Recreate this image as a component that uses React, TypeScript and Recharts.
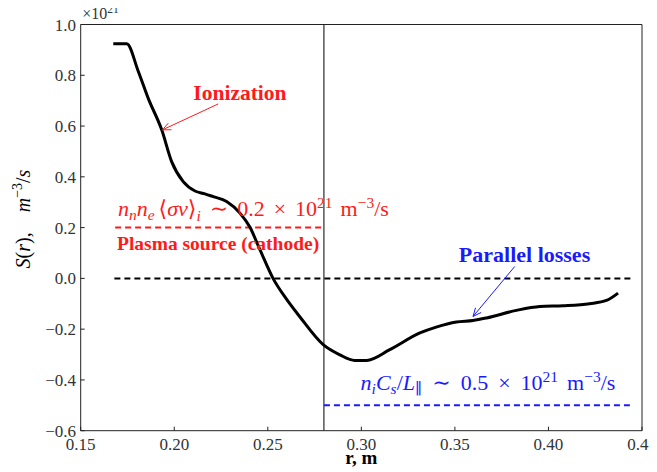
import React from 'react';
import { LineChart, Line, XAxis, YAxis, ReferenceLine, ReferenceDot } from 'recharts';

// radius r (m) and source S(r) (units of 1e21 m^-3/s)
const rValues = [
  0.1674, 0.1746, 0.1808, 0.1861, 0.1933, 0.1986, 0.2048, 0.2111, 0.2164, 0.2208,
  0.228, 0.2351, 0.2404, 0.2458, 0.2528, 0.26, 0.2672, 0.2796, 0.2885, 0.2965,
  0.3028, 0.3152, 0.3313, 0.34, 0.3508, 0.3597, 0.3669, 0.3829, 0.3954, 0.4078,
  0.422, 0.431, 0.4372,
];
const sValues = [
  0.924, 0.924, 0.815, 0.709, 0.585, 0.46, 0.381, 0.344, 0.333, 0.322,
  0.303, 0.257, 0.202, 0.113, 0.0, -0.082, -0.152, -0.261, -0.301, -0.323,
  -0.323, -0.281, -0.215, -0.192, -0.172, -0.166, -0.156, -0.126, -0.111, -0.108,
  -0.1, -0.087, -0.058,
];

// dashed reference levels
const ionizationLevel = [{ r: 0.1684, s: 0.2 }, { r: 0.28, s: 0.2 }];
const zeroLevel = [{ r: 0.168, s: 0 }, { r: 0.444, s: 0 }];
const lossLevel = [{ r: 0.28, s: -0.5 }, { r: 0.4435, s: -0.5 }];
const cathodeEdge = 0.28;

const xTicks = [0.15, 0.2, 0.25, 0.3, 0.35, 0.4, 0.45];
const yTicks = [-0.6, -0.4, -0.2, 0.0, 0.2, 0.4, 0.6, 0.8, 1.0];

const profile = rValues.map((r, i) => ({ r, s: sValues[i] }));

const FONT = '"Liberation Serif", "DejaVu Serif", "Noto Serif", Tinos, "Times New Roman", Times, serif';
const RED = '#ff1a1a';
const BLUE = '#1a1aff';

const fmt = (v: number, d: number) => (v < 0 ? '\u2212' : '') + Math.abs(v).toFixed(d);

const Arrow = (p: any, color: string) => {
  const { x1, y1, x2, y2 } = p;
  const a = Math.atan2(y2 - y1, x2 - x1);
  const len = 9;
  const spread = 0.42;
  const hx1 = x2 - len * Math.cos(a - spread);
  const hy1 = y2 - len * Math.sin(a - spread);
  const hx2 = x2 - len * Math.cos(a + spread);
  const hy2 = y2 - len * Math.sin(a + spread);
  return (
    <g stroke={color} strokeWidth={1} fill="none">
      <line x1={x1} y1={y1} x2={x2} y2={y2} />
      <polyline points={`${hx1},${hy1} ${x2},${y2} ${hx2},${hy2}`} />
    </g>
  );
};

const noLabel = () => <g />;

const App: React.FC = () => {
  return (
    <div style={{ margin: '-8px 0 0 -8px', width: 657, height: 472 }}>
      <LineChart
        width={657}
        height={472}
        margin={{ top: 23.5, right: 14, left: 0, bottom: 0 }}
        style={{ fontFamily: FONT }}
      >
        <XAxis
          dataKey="r"
          type="number"
          domain={[0.15, 0.45]}
          ticks={xTicks}
          interval={0}
          allowDataOverflow
          height={41.3}
          tickSize={-4}
          tickMargin={10.8}
          tickFormatter={(v: number) => fmt(v, 2)}
          tick={{ fill: '#333', fontSize: 17, fontFamily: FONT }}
          axisLine={{ stroke: '#222' }}
          tickLine={{ stroke: '#222' }}
          label={{
            content: ({ viewBox }: any) => (
              <text
                x={viewBox.x + viewBox.width / 2}
                y={viewBox.y + 33}
                textAnchor="middle"
                fontFamily={FONT}
                fontWeight="bold"
                fontSize={19}
                fill="#000"
              >
                r, m
              </text>
            ),
          }}
        />
        <XAxis
          xAxisId="top"
          orientation="top"
          type="number"
          domain={[0.15, 0.45]}
          ticks={xTicks}
          interval={0}
          height={1}
          tick={noLabel}
          tickSize={-4}
          axisLine={{ stroke: '#222' }}
          tickLine={{ stroke: '#222' }}
        />
        <YAxis
          type="number"
          domain={[-0.6, 1.0]}
          ticks={yTicks}
          interval={0}
          allowDataOverflow
          width={80.7}
          tickSize={-4}
          tickMargin={8.7}
          tickFormatter={(v: number) => fmt(v, 1)}
          tick={{ fill: '#333', fontSize: 17, fontFamily: FONT }}
          axisLine={{ stroke: '#222' }}
          tickLine={{ stroke: '#222' }}
          label={{
            content: () => (
              <text
                transform="translate(30,219) rotate(-90)"
                textAnchor="middle"
                fontFamily={FONT}
                fontSize={20}
                fill="#000"
              >
                <tspan fontStyle="italic">S</tspan>
                <tspan>(</tspan>
                <tspan fontStyle="italic">r</tspan>
                <tspan>),</tspan>
                <tspan dx={20} fontStyle="italic">m</tspan>
                <tspan fontSize={14} dy={-8}>{'\u22123'}</tspan>
                <tspan dy={8}>/</tspan>
                <tspan fontStyle="italic">s</tspan>
              </text>
            ),
          }}
        />
        <YAxis
          yAxisId="right"
          orientation="right"
          type="number"
          domain={[-0.6, 1.0]}
          ticks={yTicks}
          interval={0}
          width={1}
          tick={noLabel}
          tickSize={-4}
          axisLine={{ stroke: '#222' }}
          tickLine={{ stroke: '#222' }}
        />

        <ReferenceLine x={cathodeEdge} stroke="#000" strokeWidth={1} />

        <Line
          data={zeroLevel}
          dataKey="s"
          stroke="#000"
          strokeWidth={2}
          strokeDasharray="6 4"
          dot={false}
          activeDot={false}
          isAnimationActive={false}
        />
        <Line
          data={ionizationLevel}
          dataKey="s"
          stroke={RED}
          strokeWidth={2}
          strokeDasharray="6 4"
          dot={false}
          activeDot={false}
          isAnimationActive={false}
        />
        <Line
          data={lossLevel}
          dataKey="s"
          stroke={BLUE}
          strokeWidth={2}
          strokeDasharray="6 4"
          dot={false}
          activeDot={false}
          isAnimationActive={false}
        />
        <Line
          data={profile}
          dataKey="s"
          type="monotone"
          stroke="#000"
          strokeWidth={3}
          strokeLinejoin="round"
          dot={false}
          activeDot={false}
          isAnimationActive={false}
        />

        {/* annotation arrows */}
        <ReferenceLine
          segment={[{ x: 0.2235, y: 0.687 }, { x: 0.1937, y: 0.585 }]}
          shape={(p: any) => Arrow(p, RED)}
        />
        <ReferenceLine
          segment={[{ x: 0.382, y: 0.047 }, { x: 0.3597, y: -0.15 }]}
          shape={(p: any) => Arrow(p, BLUE)}
        />

        {/* multiplier */}
        <ReferenceDot
          x={0.15}
          y={1.0}
          ifOverflow="visible"
          shape={(p: any) => (
            <text x={p.cx + 1.5} y={p.cy - 5.5} fontFamily={FONT} fontSize={16} fill="#333">
              {'\u00d710'}
              <tspan fontSize={11.5} dy={-6}>21</tspan>
            </text>
          )}
        />

        <ReferenceDot
          x={0.2351}
          y={0.703}
          ifOverflow="visible"
          shape={(p: any) => (
            <text x={p.cx} y={p.cy} textAnchor="middle" fontFamily={FONT} fontWeight="bold" fontSize={21.5} fill={RED}>
              Ionization
            </text>
          )}
        />
        <ReferenceDot
          x={0.1699}
          y={0.2445}
          ifOverflow="visible"
          shape={(p: any) => (
            <text x={p.cx} y={p.cy} fontFamily={FONT} fontSize={22} fill={RED}>
              <tspan fontStyle="italic">n</tspan>
              <tspan fontStyle="italic" fontSize={15.5} dy={4}>n</tspan>
              <tspan fontStyle="italic" dy={-4}>n</tspan>
              <tspan fontStyle="italic" fontSize={15.5} dy={4}>e</tspan>
              <tspan dy={-4} dx={4}>{'\u27e8'}</tspan>
              <tspan fontStyle="italic">{'\u03c3v'}</tspan>
              <tspan>{'\u27e9'}</tspan>
              <tspan fontStyle="italic" fontSize={15.5} dy={5}>i</tspan>
              <tspan dy={-5} dx={9}>{'\u223c'}</tspan>
              <tspan dx={9}>0.2</tspan>
              <tspan dx={9}>{'\u00d7'}</tspan>
              <tspan dx={9}>10</tspan>
              <tspan fontSize={15.5} dy={-8}>21</tspan>
              <tspan dy={8} dx={8}>m</tspan>
              <tspan fontSize={15.5} dy={-8}>{'\u22123'}</tspan>
              <tspan dy={8}>/s</tspan>
            </text>
          )}
        />
        <ReferenceDot
          x={0.1694}
          y={0.1126}
          ifOverflow="visible"
          shape={(p: any) => (
            <text x={p.cx} y={p.cy} fontFamily={FONT} fontWeight="bold" fontSize={19.5} fill={RED}>
              Plasma source (cathode)
            </text>
          )}
        />
        <ReferenceDot
          x={0.3521}
          y={0.0626}
          ifOverflow="visible"
          shape={(p: any) => (
            <text x={p.cx} y={p.cy} fontFamily={FONT} fontWeight="bold" fontSize={22} fill={BLUE}>
              Parallel losses
            </text>
          )}
        />
        <ReferenceDot
          x={0.2996}
          y={-0.441}
          ifOverflow="visible"
          shape={(p: any) => (
            <text x={p.cx} y={p.cy} fontFamily={FONT} fontSize={22} fill={BLUE}>
              <tspan fontStyle="italic">n</tspan>
              <tspan fontStyle="italic" fontSize={15.5} dy={4}>i</tspan>
              <tspan fontStyle="italic" dy={-4}>C</tspan>
              <tspan fontStyle="italic" fontSize={15.5} dy={4}>s</tspan>
              <tspan dy={-4}>/</tspan>
              <tspan fontStyle="italic">L</tspan>
              <tspan fontSize={15.5} dy={4}>{'\u2225'}</tspan>
              <tspan dy={-4} dx={10}>{'\u223c'}</tspan>
              <tspan dx={10}>0.5</tspan>
              <tspan dx={10}>{'\u00d7'}</tspan>
              <tspan dx={10}>10</tspan>
              <tspan fontSize={15.5} dy={-8}>21</tspan>
              <tspan dy={8} dx={9}>m</tspan>
              <tspan fontSize={15.5} dy={-8}>{'\u22123'}</tspan>
              <tspan dy={8}>/s</tspan>
            </text>
          )}
        />
      </LineChart>
    </div>
  );
};

export default App;
